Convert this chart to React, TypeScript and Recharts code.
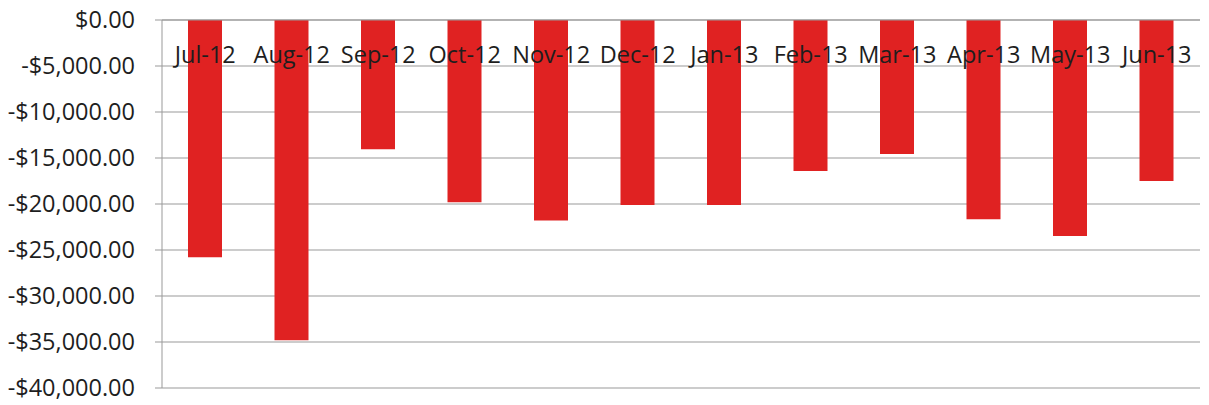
import React from "react";
import { BarChart, Bar, XAxis, YAxis, CartesianGrid } from "recharts";

const months = ["Jul-12", "Aug-12", "Sep-12", "Oct-12", "Nov-12", "Dec-12", "Jan-13", "Feb-13", "Mar-13", "Apr-13", "May-13", "Jun-13"];
const values = [-25800, -34800, -14050, -19800, -21780, -20120, -20120, -16420, -14570, -21650, -23480, -17500];
const yTicks = [0, -5000, -10000, -15000, -20000, -25000, -30000, -35000, -40000];

const data = months.map((m, i) => ({ month: m, value: values[i] }));

const fmt = (v: number) => {
  const abs = Math.abs(v).toLocaleString("en-US", { minimumFractionDigits: 2, maximumFractionDigits: 2 });
  return (v < 0 ? "-$" : "$") + abs;
};

const FONT = "'Open Sans', sans-serif";

const MonthTick = (props: any) => {
  const { x, y, payload } = props;
  return (
    <text x={x} y={y} dy={43} textAnchor="middle" fill="#1e1e1e" fontSize={23.5} fontFamily={FONT}>
      {payload.value}
    </text>
  );
};

export default function App() {
  return (
    <div style={{ position: "absolute", left: 0, top: 0, background: "#fff" }}>
      <BarChart
        width={1209}
        height={405}
        data={data}
        margin={{ top: 0, right: 9, bottom: 17, left: 0 }}
        barSize={34}
      >
        <CartesianGrid vertical={false} stroke="#999" strokeWidth={1} />
        <YAxis
          width={162}
          domain={[-40000, 0]}
          ticks={yTicks}
          tickFormatter={fmt}
          tickSize={7}
          tickMargin={20}
          tickLine={{ stroke: "#999" }}
          axisLine={{ stroke: "#999" }}
          tick={{ fill: "#1e1e1e", fontSize: 23.5, fontFamily: FONT }}
          interval={0}
        />
        <Bar dataKey="value" fill="#e02222" isAnimationActive={false} />
        <XAxis
          dataKey="month"
          orientation="top"
          height={20}
          tickLine={false}
          axisLine={{ stroke: "#999" }}
          tickSize={0}
          tickMargin={0}
          interval={0}
          tick={<MonthTick />}
        />
      </BarChart>
    </div>
  );
}
